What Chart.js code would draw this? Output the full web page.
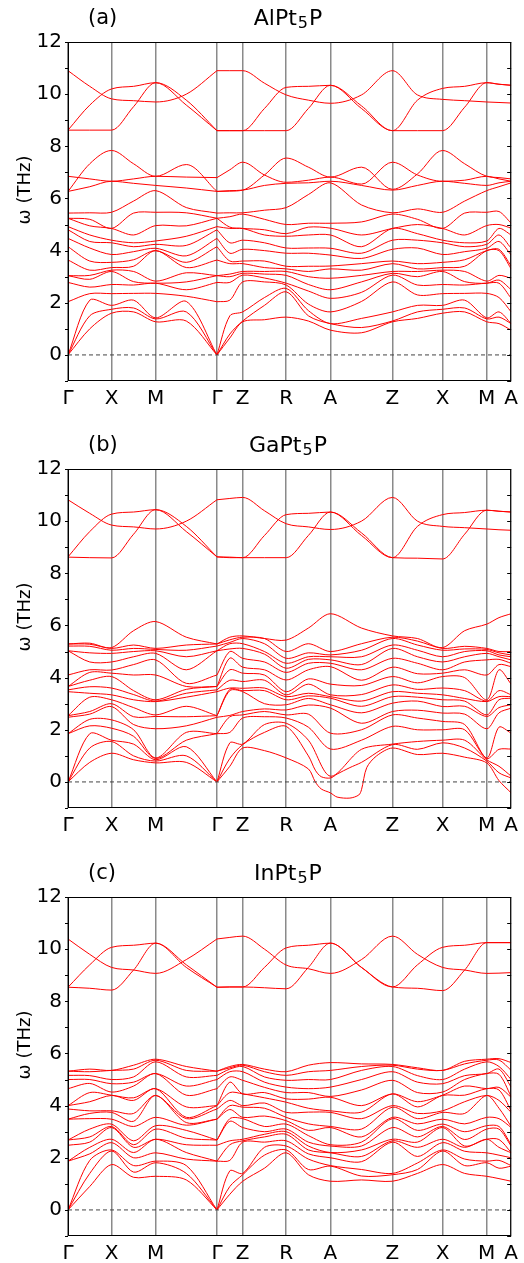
<!DOCTYPE html>
<html>
<head>
<meta charset="utf-8">
<script src="https://cdn.jsdelivr.net/npm/chart.js@4.4.0/dist/chart.umd.min.js"></script>
<style>
  html, body { margin: 0; padding: 0; background: #fff; }
  body { width: 524px; height: 1263px; overflow: hidden; position: relative; }
  canvas { position: absolute; left: 0; }
</style>
</head>
<body>
<canvas id="panelAl" width="524" height="427" style="top:0"></canvas>
<canvas id="panelGa" width="524" height="427" style="top:427px"></canvas>
<canvas id="panelIn" width="524" height="427" style="top:855px"></canvas>
<script>
// high-symmetry points along the path and their labels
const kTicks = [0, 44, 88.6, 150.6, 176.6, 220.6, 265.3, 328, 378.6, 423.3, 448];
const kLabels = ['Γ', 'X', 'M', 'Γ', 'Z', 'R', 'A', 'Z', 'X', 'M', 'A'];
// where the frequencies are sampled: every point above plus the middle of each leg
const kSamples = [0, 22, 44, 66.3, 88.6, 119.6, 150.6, 163.6, 176.6, 198.6, 220.6,
                  243, 265.3, 296.7, 328, 353.3, 378.6, 401, 423.3, 435.7, 448];
const freqTicks = [0, 2, 4, 6, 8, 10, 12];

// ---------- AlPt5P ----------
const alOptic = [
  [10.9, 10.3, 9.82, 9.75, 9.7, 10.0, 10.9, 10.9, 10.9, 10.42, 9.97, 9.77, 9.65, 9.97, 10.9, 9.97, 9.8, 9.75, 9.7, 9.68, 9.66],
  [8.62, 9.58, 10.2, 10.3, 10.44, 9.77, 8.6, 8.6, 8.6, 9.45, 10.26, 10.3, 10.34, 9.45, 8.6, 9.77, 10.22, 10.3, 10.44, 10.38, 10.34],
  [8.62, 8.62, 8.62, 9.52, 10.44, 9.58, 8.6, 8.6, 8.6, 8.6, 8.6, 9.45, 10.34, 9.55, 8.6, 8.6, 8.6, 9.5, 10.44, 10.38, 10.34]
];
const alMiddle = [
  [6.27, 7.33, 7.84, 7.33, 6.85, 7.3, 6.27, 6.28, 6.32, 6.9, 7.55, 7.2, 6.82, 7.2, 6.35, 6.94, 7.84, 7.33, 6.85, 6.8, 6.75],
  [6.85, 6.75, 6.66, 6.75, 6.85, 6.82, 6.8, 7.1, 7.39, 6.9, 6.62, 6.7, 6.82, 6.55, 7.39, 6.9, 6.66, 6.7, 6.85, 6.75, 6.66],
  [6.27, 6.45, 6.66, 6.58, 6.5, 6.4, 6.27, 6.3, 6.32, 6.5, 6.58, 6.6, 6.66, 6.5, 6.32, 6.5, 6.66, 6.58, 6.5, 6.6, 6.66]
];
// lower branches, one row per sample position, lowest frequency first
const alLow = [
  [0, 0, 0, 2.04, 2.78, 3.04, 3.04, 3.64, 4.15, 4.47, 4.8, 4.92, 5.24, 5.24, 5.44],
  [1.0, 1.5, 2.1, 2.35, 2.6, 2.9, 3.05, 3.25, 3.6, 4.1, 4.35, 4.6, 4.95, 5.2, 5.45],
  [1.6, 1.75, 1.9, 2.35, 2.7, 3.2, 3.25, 3.35, 3.55, 3.85, 4.3, 4.4, 4.85, 4.85, 5.47],
  [1.65, 1.8, 2.1, 2.36, 2.68, 2.81, 3.2, 3.4, 3.65, 3.96, 4.15, 4.3, 4.6, 5.44, 5.9],
  [1.27, 1.38, 1.42, 2.36, 2.75, 2.75, 2.83, 4.0, 4.0, 4.09, 4.24, 4.37, 4.96, 5.47, 6.3],
  [1.3, 1.65, 2.05, 2.25, 2.5, 2.8, 3.15, 3.35, 3.55, 3.8, 4.2, 4.55, 4.95, 5.45, 5.65],
  [0, 0, 0, 2.04, 2.78, 3.04, 3.04, 3.64, 4.15, 4.47, 4.8, 4.92, 5.24, 5.24, 5.44],
  [0.65, 0.8, 1.5, 2.1, 2.78, 3.0, 3.1, 3.5, 3.6, 3.9, 4.3, 4.85, 4.9, 5.3, 5.45],
  [1.27, 1.3, 1.65, 2.8, 3.06, 3.13, 3.2, 3.5, 3.6, 4.05, 4.4, 4.85, 4.85, 5.4, 5.45],
  [1.35, 1.9, 2.2, 2.8, 2.95, 3.1, 3.2, 3.35, 3.6, 4.0, 4.3, 4.6, 4.8, 5.2, 5.55],
  [1.45, 2.42, 2.55, 2.68, 2.75, 3.05, 3.2, 3.3, 3.4, 3.9, 4.1, 4.55, 4.65, 5.0, 5.65],
  [1.3, 1.5, 1.7, 1.95, 2.45, 2.7, 3.0, 3.2, 3.4, 3.9, 4.1, 4.6, 4.9, 5.05, 6.15],
  [0.95, 1.2, 1.2, 1.65, 2.17, 2.5, 2.94, 3.3, 3.41, 3.83, 4.09, 4.6, 4.86, 5.05, 6.6],
  [0.85, 1.05, 1.4, 2.05, 2.4, 2.8, 3.05, 3.25, 3.5, 3.7, 3.9, 4.15, 4.6, 5.1, 5.75],
  [1.27, 1.3, 1.65, 2.8, 3.06, 3.13, 3.2, 3.5, 3.6, 4.05, 4.4, 4.85, 4.85, 5.4, 5.45],
  [1.4, 1.65, 1.9, 2.3, 2.68, 3.0, 3.2, 3.3, 3.5, 4.1, 4.4, 4.65, 5.0, 5.2, 5.6],
  [1.6, 1.75, 1.9, 2.35, 2.7, 3.2, 3.25, 3.35, 3.55, 3.85, 4.3, 4.4, 4.85, 4.85, 5.47],
  [1.65, 1.8, 2.1, 2.36, 2.68, 2.81, 3.2, 3.4, 3.65, 3.96, 4.15, 4.3, 4.6, 5.44, 5.9],
  [1.27, 1.38, 1.42, 2.36, 2.75, 2.75, 2.83, 4.0, 4.0, 4.09, 4.24, 4.37, 4.96, 5.47, 6.3],
  [1.2, 1.45, 1.65, 2.2, 2.75, 2.87, 3.05, 4.0, 4.05, 4.35, 4.6, 4.85, 5.0, 5.5, 6.45],
  [0.95, 1.2, 1.2, 1.65, 2.17, 2.5, 2.94, 3.3, 3.41, 3.83, 4.09, 4.6, 4.86, 5.05, 6.6]
];

// ---------- GaPt5P ----------
const gaOptic = [
  [10.82, 10.3, 9.85, 9.78, 9.7, 10.0, 10.82, 10.87, 10.91, 10.4, 9.9, 9.78, 9.68, 10.0, 10.91, 10.0, 9.8, 9.75, 9.7, 9.67, 9.65],
  [8.63, 9.6, 10.27, 10.35, 10.44, 9.8, 8.63, 8.62, 8.6, 9.45, 10.25, 10.3, 10.35, 9.45, 8.6, 9.8, 10.25, 10.33, 10.42, 10.38, 10.35],
  [8.62, 8.6, 8.59, 9.5, 10.44, 9.6, 8.63, 8.6, 8.6, 8.6, 8.6, 9.45, 10.35, 9.55, 8.6, 8.58, 8.55, 9.5, 10.42, 10.38, 10.35]
];
const gaLow = [
  [0, 0, 0, 1.85, 1.85, 2.48, 2.54, 2.54, 3.46, 3.53, 3.66, 3.66, 4.1, 5.03, 5.03, 5.21, 5.29, 5.29],
  [0.75, 1.3, 1.85, 2.15, 2.4, 2.6, 2.7, 3.25, 3.4, 3.65, 3.9, 4.2, 4.3, 4.6, 4.95, 5.2, 5.28, 5.32],
  [1.1, 1.55, 1.6, 2.06, 2.38, 2.89, 3.0, 3.15, 3.34, 3.6, 4.04, 4.17, 4.29, 4.6, 4.93, 5.05, 5.12, 5.15],
  [0.85, 1.0, 1.45, 1.75, 2.0, 2.2, 2.5, 2.85, 3.15, 3.35, 3.5, 4.1, 4.5, 4.8, 5.0, 5.12, 5.25, 5.8],
  [0.73, 0.8, 0.85, 0.9, 0.92, 2.04, 2.51, 2.57, 3.08, 3.1, 3.15, 4.1, 4.68, 4.93, 5.03, 5.08, 5.12, 6.15],
  [0.75, 1.0, 1.35, 1.6, 1.9, 2.15, 2.5, 2.9, 3.25, 3.4, 3.55, 3.66, 3.78, 4.3, 4.8, 5.05, 5.25, 5.55],
  [0, 0, 0, 1.85, 1.85, 2.48, 2.54, 2.54, 3.46, 3.53, 3.66, 3.66, 4.1, 5.03, 5.03, 5.21, 5.29, 5.29],
  [0.6, 0.9, 1.5, 1.9, 2.5, 2.55, 3.5, 3.55, 3.6, 3.9, 4.3, 4.75, 5.0, 5.1, 5.3, 5.35, 5.45, 5.55],
  [1.3, 1.43, 1.45, 2.45, 2.57, 2.7, 3.46, 3.5, 3.59, 3.85, 4.17, 4.4, 4.74, 5.12, 5.3, 5.5, 5.55, 5.6],
  [1.2, 1.9, 2.2, 2.5, 2.7, 2.8, 3.0, 3.5, 3.6, 3.9, 4.1, 4.3, 4.6, 4.9, 5.0, 5.3, 5.5, 5.5],
  [0.92, 2.13, 2.25, 2.45, 2.57, 2.76, 2.96, 3.15, 3.27, 3.34, 3.46, 3.91, 4.2, 4.36, 4.55, 4.74, 5.0, 5.44],
  [0.5, 1.0, 1.6, 2.1, 2.6, 2.95, 3.2, 3.3, 3.4, 3.75, 3.95, 4.3, 4.55, 4.7, 4.8, 4.95, 5.3, 5.9],
  [-0.42, 0.15, 0.22, 1.26, 1.87, 2.83, 2.96, 3.21, 3.27, 3.34, 3.75, 4.42, 4.55, 4.68, 4.8, 4.87, 5.0, 6.45],
  [-0.3, 0.75, 1.25, 1.6, 2.0, 2.25, 2.65, 2.9, 3.1, 3.35, 3.7, 3.9, 4.3, 4.5, 4.8, 5.05, 5.3, 5.9],
  [1.3, 1.43, 1.45, 2.13, 2.57, 2.7, 3.02, 3.27, 3.46, 3.72, 4.04, 4.4, 4.74, 5.12, 5.25, 5.5, 5.55, 5.6],
  [1.05, 1.25, 1.55, 2.0, 2.45, 2.75, 3.1, 3.25, 3.4, 3.55, 3.8, 4.15, 4.55, 4.8, 5.05, 5.25, 5.4, 5.5],
  [1.1, 1.5, 1.6, 2.0, 2.32, 2.64, 2.89, 3.15, 3.34, 3.6, 4.04, 4.17, 4.3, 4.6, 4.8, 5.05, 5.12, 5.15],
  [0.95, 1.3, 1.6, 2.0, 2.2, 2.6, 2.9, 3.1, 3.2, 3.5, 4.0, 4.3, 4.6, 4.8, 5.0, 5.1, 5.2, 5.8],
  [0.73, 0.8, 0.85, 0.9, 0.92, 2.04, 2.51, 2.57, 3.08, 3.1, 3.15, 4.1, 4.68, 4.93, 5.03, 5.08, 5.12, 6.05],
  [0.05, 0.35, 0.6, 1.25, 2.1, 2.65, 2.85, 3.15, 3.27, 3.5, 4.3, 4.5, 4.7, 4.8, 4.87, 4.95, 5.0, 6.3],
  [-0.42, 0.15, 0.22, 1.26, 1.87, 2.83, 2.96, 3.21, 3.27, 3.34, 3.75, 4.42, 4.55, 4.68, 4.8, 4.87, 5.0, 6.45]
];
// the soft branches dipping below zero around A need a finer sampling
const gaDipX0 = [250, 256, 272, 285, 294, 302, 312];
const gaDipY0 = [0.0, -0.27, -0.58, -0.62, -0.5, 0.55, 1.0];
const gaDipX1 = [250, 256, 272, 285];
const gaDipY1 = [0.45, 0.2, 0.3, 0.55];

// ---------- InPt5P ----------
const inOptic = [
  [10.39, 9.8, 9.3, 9.2, 9.07, 9.6, 10.39, 10.45, 10.5, 10.0, 9.39, 9.25, 9.07, 9.6, 10.5, 9.8, 9.3, 9.2, 9.07, 9.08, 9.1],
  [8.54, 9.4, 10.07, 10.15, 10.23, 9.4, 8.54, 8.55, 8.55, 9.3, 10.05, 10.15, 10.23, 9.3, 8.55, 9.4, 10.07, 10.15, 10.25, 10.25, 10.25],
  [8.54, 8.5, 8.43, 9.2, 10.23, 9.3, 8.54, 8.55, 8.55, 8.52, 8.48, 9.3, 10.23, 9.3, 8.55, 8.5, 8.41, 9.2, 10.25, 10.25, 10.25]
];
const inLow = [
  [0, 0, 0, 1.87, 1.87, 2.48, 2.68, 2.68, 3.48, 3.48, 3.87, 4.0, 4.0, 4.65, 5.0, 5.16, 5.32, 5.32],
  [0.9, 1.4, 1.9, 2.15, 2.4, 2.6, 2.8, 3.1, 3.5, 3.7, 3.8, 4.15, 4.5, 4.85, 5.0, 5.15, 5.3, 5.4],
  [1.74, 2.26, 2.3, 2.58, 2.71, 3.16, 3.2, 3.29, 3.48, 3.74, 3.8, 4.39, 4.4, 4.52, 4.84, 5.0, 5.35, 5.35],
  [1.25, 1.45, 1.7, 2.0, 2.2, 2.4, 2.5, 2.65, 3.2, 3.4, 3.7, 4.2, 4.3, 4.75, 4.9, 5.1, 5.4, 5.55],
  [1.29, 1.81, 1.87, 2.19, 2.71, 2.71, 3.1, 3.23, 3.55, 4.39, 4.39, 4.65, 4.65, 5.23, 5.23, 5.68, 5.74, 5.78],
  [1.15, 1.4, 1.7, 1.95, 2.2, 2.5, 2.75, 3.05, 3.25, 3.35, 3.5, 3.55, 3.95, 4.4, 4.75, 5.1, 5.35, 5.5],
  [0, 0, 0, 1.87, 1.87, 2.48, 2.68, 2.68, 3.48, 3.48, 3.87, 4.0, 4.0, 4.65, 5.0, 5.16, 5.32, 5.32],
  [0.6, 0.9, 1.5, 1.9, 2.5, 2.65, 3.4, 3.5, 3.85, 4.0, 4.2, 4.5, 4.9, 5.1, 5.3, 5.4, 5.45, 5.5],
  [1.1, 1.35, 1.4, 2.6, 2.65, 2.71, 3.16, 3.5, 3.55, 3.94, 4.0, 4.45, 4.45, 4.97, 5.3, 5.5, 5.55, 5.58],
  [1.6, 2.1, 2.4, 2.6, 2.8, 2.9, 3.0, 3.2, 3.6, 3.9, 4.1, 4.3, 4.5, 4.7, 4.9, 5.1, 5.3, 5.4],
  [2.19, 2.3, 2.45, 2.65, 2.9, 3.0, 3.1, 3.29, 3.42, 3.55, 3.74, 4.13, 4.26, 4.5, 4.71, 4.97, 5.16, 5.3],
  [1.35, 1.55, 1.95, 2.15, 2.3, 2.45, 2.6, 2.85, 3.05, 3.3, 3.75, 3.9, 4.25, 4.5, 4.65, 5.0, 5.3, 5.55],
  [1.1, 1.68, 1.7, 2.0, 2.19, 2.2, 2.45, 2.5, 3.16, 3.2, 3.74, 3.8, 4.32, 4.35, 4.71, 5.0, 5.35, 5.65],
  [1.15, 1.3, 1.55, 1.85, 2.05, 2.3, 2.45, 2.6, 2.8, 3.1, 3.5, 3.75, 4.0, 4.6, 5.0, 5.35, 5.5, 5.6],
  [1.1, 1.35, 1.4, 2.6, 2.65, 2.71, 3.16, 3.5, 3.55, 3.94, 4.0, 4.45, 4.45, 4.97, 5.3, 5.5, 5.55, 5.58],
  [1.4, 1.55, 1.8, 2.05, 2.4, 2.6, 2.8, 3.05, 3.3, 3.5, 3.7, 3.95, 4.15, 4.5, 4.9, 5.15, 5.4, 5.45],
  [1.74, 2.26, 2.3, 2.58, 2.71, 3.16, 3.2, 3.29, 3.48, 3.74, 3.8, 4.39, 4.4, 4.52, 4.84, 5.0, 5.35, 5.35],
  [1.4, 1.7, 1.95, 2.25, 2.4, 2.45, 2.7, 3.0, 3.3, 3.7, 4.15, 4.4, 4.75, 5.0, 5.15, 5.4, 5.6, 5.7],
  [1.29, 1.81, 1.87, 2.19, 2.71, 2.71, 3.1, 3.23, 3.55, 4.39, 4.39, 4.65, 4.65, 5.23, 5.23, 5.68, 5.74, 5.78],
  [1.2, 1.6, 1.9, 2.1, 2.4, 2.7, 3.1, 3.2, 3.5, 3.9, 4.2, 4.6, 4.7, 5.2, 5.4, 5.5, 5.75, 5.8],
  [1.1, 1.68, 1.7, 2.0, 2.19, 2.2, 2.45, 2.5, 3.16, 3.2, 3.74, 3.8, 4.32, 4.35, 4.71, 5.0, 5.35, 5.65]
];

Chart.defaults.font.family = '"DejaVu Sans", sans-serif';
Chart.defaults.color = '#000';

// rows are sample positions, turn them into one array per branch
function rowsToBands(rows) {
  return rows[0].map((_, i) => rows.map(r => r[i]));
}

// one branch becomes two line pieces, cut at the zone-centre Γ so the
// acoustic modes come into it as a V instead of a rounded bottom.
// Flat optic branches use monotone curves so they don't overshoot.
function branchSets(values, flat, extraX, extraY) {
  let pts = values.map((v, i) => ({x: kSamples[i], y: v}));
  if (extraX) {
    extraX.forEach((x, i) => pts.push({x: x, y: extraY[i]}));
    pts.sort((a, b) => a.x - b.x);
  }
  const cut = kTicks[3];
  return [pts.filter(p => p.x <= cut), pts.filter(p => p.x >= cut)].map(d => {
    const set = {
      data: d,
      borderColor: '#ff0000',
      borderWidth: 1,
      pointRadius: 0,
      fill: false
    };
    if (flat) set.cubicInterpolationMode = 'monotone';
    else set.tension = 0.3;
    return set;
  });
}

const framePlugin = {
  id: 'frame',
  afterDatasetsDraw(chart, args, opts) {
    const {ctx, chartArea: a} = chart;
    const y = chart.scales.y;
    ctx.save();
    ctx.strokeStyle = '#000';
    ctx.lineWidth = 1;
    ctx.strokeRect(a.left + 0.5, a.top + 0.5, a.right - a.left - 1, a.bottom - a.top - 1);
    ctx.beginPath();
    for (let v = -1; v <= 12; v++) {
      const py = Math.round(y.getPixelForValue(v)) + 0.5;
      ctx.moveTo(a.left - 3, py);
      ctx.lineTo(a.left, py);
      ctx.moveTo(a.right - 4, py);
      ctx.lineTo(a.right, py);
    }
    ctx.stroke();

    // panel letter and compound
    ctx.fillStyle = '#000';
    ctx.textBaseline = 'middle';
    ctx.textAlign = 'left';
    ctx.font = '21px "DejaVu Sans"';
    ctx.fillText(opts.tag, 88, 19);
    const [head, sub, tail] = opts.formula;
    ctx.font = '22px "DejaVu Sans"';
    const wHead = ctx.measureText(head).width + 1;
    const wTail = ctx.measureText(tail).width;
    ctx.font = '16px "DejaVu Sans"';
    const wSub = ctx.measureText(sub).width + 1;
    let x = 288 - (wHead + wSub + wTail) / 2;
    ctx.font = '22px "DejaVu Sans"';
    ctx.fillText(head, x, 19);
    ctx.font = '16px "DejaVu Sans"';
    ctx.fillText(sub, x + wHead, 24);
    ctx.font = '22px "DejaVu Sans"';
    ctx.fillText(tail, x + wHead + wSub, 19);

    // frequency axis title
    ctx.translate(25, 190);
    ctx.rotate(-Math.PI / 2);
    ctx.textAlign = 'center';
    ctx.font = '18px "DejaVu Sans"';
    ctx.fillText('ω (THz)', 0, 0);
    ctx.restore();
  }
};

function drawPanel(id, tag, formula, upper, lowRows, dips) {
  const datasets = [{
    data: [{x: kTicks[0], y: 0}, {x: kTicks[kTicks.length - 1], y: 0}],
    borderColor: '#444',
    borderWidth: 1,
    borderDash: [4, 3],
    pointRadius: 0
  }];
  upper.forEach(b => datasets.push(...branchSets(b, true)));
  rowsToBands(lowRows).forEach((b, i) => {
    const d = dips && dips[i];
    datasets.push(...(d ? branchSets(b, false, d[0], d[1]) : branchSets(b, false)));
  });

  new Chart(document.getElementById(id), {
    type: 'line',
    data: {datasets: datasets},
    options: {
      responsive: false,
      animation: false,
      devicePixelRatio: 1,
      layout: {padding: {top: 42, right: 8, left: 0, bottom: 0}},
      plugins: {legend: {display: false}, tooltip: {enabled: false}, frame: {tag: tag, formula: formula}},
      scales: {
        x: {
          type: 'linear',
          min: kTicks[0],
          max: kTicks[kTicks.length - 1],
          afterBuildTicks: s => { s.ticks = kTicks.map(v => ({value: v})); },
          afterFit: s => { s.height = 46; },
          ticks: {
            autoSkip: false,
            maxRotation: 0,
            padding: 6,
            font: {size: 20},
            callback: (v, i) => kLabels[i]
          },
          grid: {color: '#8a8a8a', lineWidth: 1.5, drawTicks: false},
          border: {display: false}
        },
        y: {
          type: 'linear',
          min: -1,
          max: 12,
          afterBuildTicks: s => { s.ticks = freqTicks.map(v => ({value: v})); },
          afterFit: s => { s.width = 68; },
          ticks: {padding: 6, font: {size: 20}},
          grid: {display: false, drawTicks: false},
          border: {display: false}
        }
      }
    },
    plugins: [framePlugin]
  });
}

drawPanel('panelAl', '(a)', ['AlPt', '5', 'P'], alOptic.concat(alMiddle), alLow);
drawPanel('panelGa', '(b)', ['GaPt', '5', 'P'], gaOptic, gaLow,
  {0: [gaDipX0, gaDipY0], 1: [gaDipX1, gaDipY1]});
drawPanel('panelIn', '(c)', ['InPt', '5', 'P'], inOptic, inLow);
</script>
</body>
</html>
